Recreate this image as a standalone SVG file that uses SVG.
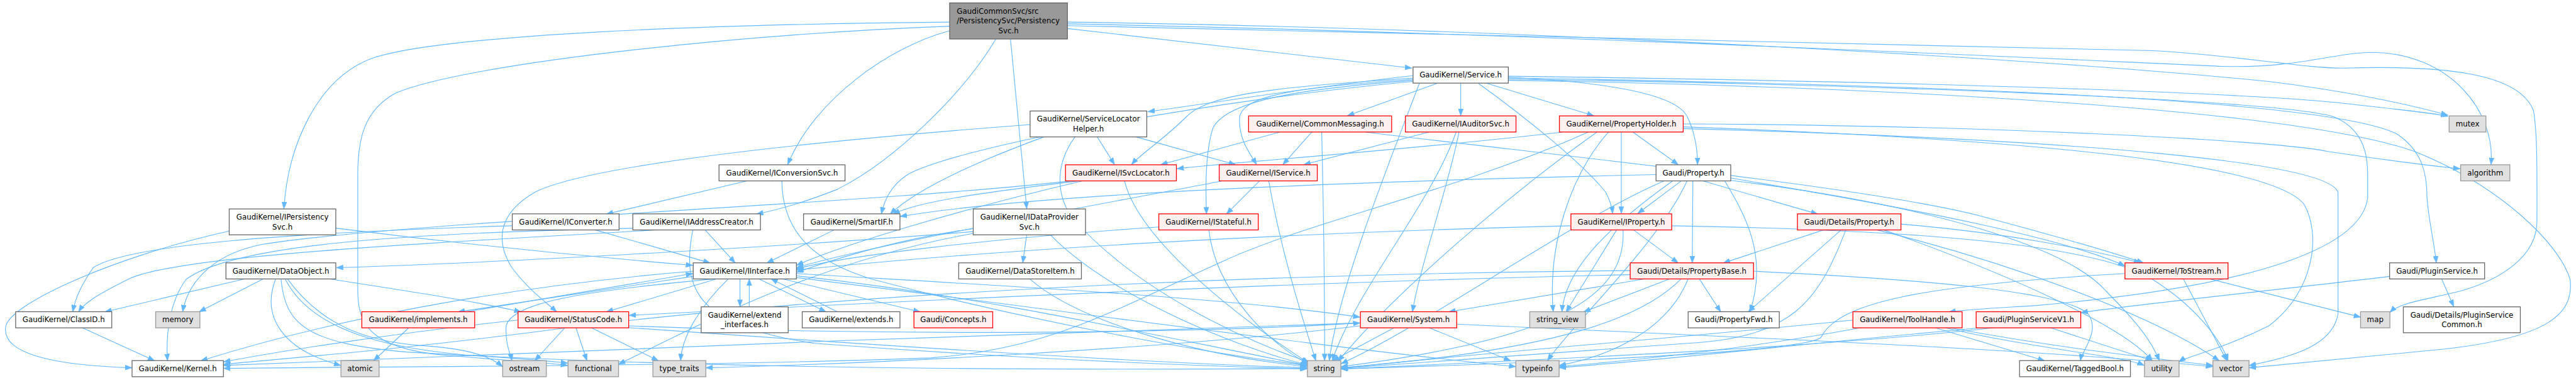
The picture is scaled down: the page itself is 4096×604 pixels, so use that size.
<svg xmlns="http://www.w3.org/2000/svg" width="4096" height="604" viewBox="0 0 4096 604">
<style>
.n rect{fill:#ffffff;stroke:#666666;stroke-width:1.4}
.r rect{fill:#fff0f0;stroke:#ff0000;stroke-width:1.4}
.g rect{fill:#e0e0e0;stroke:#999999;stroke-width:1.4}
.root rect{fill:#999999;stroke:#666666;stroke-width:1.4}
text{font-family:"DejaVu Sans","Liberation Sans",sans-serif;font-size:12.8px;text-anchor:middle;fill:#000000}
text.l{text-anchor:start}
#edges path{fill:none;stroke:#63b8ff;stroke-width:1.2;marker-end:url(#ah)}
</style>
<defs>
<marker id="ah" viewBox="0 0 12 9" refX="12" refY="4.5" markerWidth="12" markerHeight="9" markerUnits="userSpaceOnUse" orient="auto"><path d="M0,0 L12,4.5 L0,9 z" fill="#63b8ff" stroke="#63b8ff" stroke-width="0.5"/></marker>
</defs>
<rect width="4096" height="604" fill="#ffffff"/>
<g transform="scale(0.925)">
<g id="edges">
<path d="M1835,49 L2427,117"/>
<path d="M1632,53 C1530,80 1400,170 1354,283"/>
<path d="M1632,38 C1200,42 760,60 640,100 C545,135 495,250 488,359"/>
<path d="M1632,45 C1250,60 800,110 680,160 C625,190 615,240 615,300 L615,500 C615,560 640,598 760,610 C850,618 930,622 976,628"/>
<path d="M1712,67 C1650,170 1530,280 1440,325 C1390,345 1340,360 1300,368"/>
<path d="M1737,67 L1765,359"/>
<path d="M1835,38 C2600,48 3500,100 3900,140 C4060,160 4150,182 4208,198"/>
<path d="M1835,41 C2600,56 3500,100 3820,114 C3950,118 4010,90 4080,90 C4210,92 4290,190 4282,283"/>
<path d="M1835,44 C2600,62 3450,80 3700,87 C3850,95 3960,118 4030,117 C4200,112 4330,125 4355,190 C4362,230 4361,300 4361,380 C4361,440 4300,480 4230,500 C4170,515 4125,520 4108,537"/>
<path d="M2429,130 C2250,150 2100,175 1973,192"/>
<path d="M2429,134 C2200,150 2080,160 2040,200 C2000,240 1960,265 1945,283"/>
<path d="M2429,136 C2250,150 2140,160 2131,200 C2128,240 2150,265 2160,283"/>
<path d="M2471,143 L2316,199"/>
<path d="M2511,143 L2511,199"/>
<path d="M2555,143 L2740,199"/>
<path d="M2593,133 C2750,140 2880,160 2900,200 C2915,230 2918,260 2918,283"/>
<path d="M2541,143 C2620,200 2720,280 2760,330 C2768,345 2771,355 2772,367"/>
<path d="M2429,138 C2250,152 2110,170 2085,220 C2072,260 2072,320 2074,368"/>
<path d="M2429,140 C2100,170 1650,250 1560,300 C1530,320 1520,345 1515,368"/>
<path d="M2593,136 C3200,145 3900,170 4010,200 C4060,220 4070,260 4070,300 L4070,340 C4060,420 3900,490 3500,525 C3420,530 3380,532 3350,536"/>
<path d="M2593,134 C3300,145 4000,170 4120,230 C4165,260 4172,300 4172,340 C4175,380 4185,420 4188,452"/>
<path d="M2593,131 C3300,140 3900,160 4050,180 C4140,190 4190,195 4208,200"/>
<path d="M2440,143 C2380,300 2300,500 2285,620"/>
<path d="M2593,138 C3300,150 3950,190 4150,260 C4300,320 4400,420 4418,480 C4425,540 4380,580 4200,600 C4050,615 3950,625 3866,632"/>
<path d="M1283,311 L1042,368"/>
<path d="M1344,311 C1345,400 1400,450 1500,480 C1800,560 2100,610 2247,628"/>
<path d="M1886,235 L1916,283"/>
<path d="M1952,235 L2124,283"/>
<path d="M1848,235 C1815,280 1815,330 1840,370 C1950,500 2150,590 2250,622"/>
<path d="M1795,235 C1700,270 1580,320 1530,368"/>
<path d="M1771,214 C1300,250 1000,290 920,330 C850,370 855,420 880,460 C910,500 940,520 957,536"/>
<path d="M1853,311 C1700,330 1580,345 1535,368"/>
<path d="M1860,311 C1650,360 1450,420 1369,456"/>
<path d="M1933,311 C1960,420 2150,560 2250,624"/>
<path d="M1840,311 C1500,350 700,380 450,420 C350,440 320,500 314,536"/>
<path d="M2165,311 L2108,368"/>
<path d="M2181,311 C2200,420 2230,520 2262,620"/>
<path d="M2100,311 C1900,350 1500,420 1369,460"/>
<path d="M2200,227 L1995,283"/>
<path d="M2255,227 L2205,283"/>
<path d="M2272,227 C2275,350 2277,500 2277,620"/>
<path d="M2347,227 C2700,270 3200,320 3400,370 C3550,410 3650,440 3685,452"/>
<path d="M2456,227 L2241,283"/>
<path d="M2503,227 C2460,350 2330,500 2290,620"/>
<path d="M2508,227 C2490,320 2440,460 2428,536"/>
<path d="M2686,227 C2400,260 2100,280 2023,290"/>
<path d="M2807,227 L2885,283"/>
<path d="M2787,227 L2787,367"/>
<path d="M2745,227 C2600,330 2400,500 2300,621"/>
<path d="M2765,227 C2700,300 2660,420 2670,536"/>
<path d="M2730,227 C2500,330 2250,380 2100,450 C1900,540 1800,600 1600,615 C1200,630 600,630 384,633"/>
<path d="M2893,213 C3400,215 3900,240 4000,260 C4100,275 4180,285 4229,290"/>
<path d="M2893,218 C3500,240 3900,280 3960,350 C3990,400 3980,500 3900,560 C3820,600 3760,612 3745,622"/>
<path d="M2893,221 C3600,240 4000,280 4019,330 L4019,540 C4010,590 3950,612 3866,628"/>
<path d="M2890,311 L2815,367"/>
<path d="M2910,311 L2909,452"/>
<path d="M2928,311 L3125,368"/>
<path d="M2965,311 C3000,370 3040,440 3008,536"/>
<path d="M2975,306 C3300,360 3550,410 3653,457"/>
<path d="M2975,310 C3300,350 3550,420 3620,500 C3680,560 3700,590 3712,620"/>
<path d="M2860,311 C2700,380 2450,560 2305,625"/>
<path d="M2875,311 C2750,400 2690,470 2685,536"/>
<path d="M2900,311 C2850,420 2700,560 2660,620"/>
<path d="M2847,300 C2400,310 1800,330 1547,372"/>
<path d="M2808,395 L2885,452"/>
<path d="M2779,395 L2692,536"/>
<path d="M2790,395 C2795,500 2700,580 2305,630"/>
<path d="M2700,388 C2200,400 1700,430 1369,464"/>
<path d="M2873,388 C3300,395 3600,420 3700,480 C3780,530 3820,590 3830,620"/>
<path d="M2829,479 L2490,536"/>
<path d="M2871,479 L2722,536"/>
<path d="M2890,479 C2830,540 2700,600 2305,632"/>
<path d="M2902,479 C2870,560 2780,610 2680,628"/>
<path d="M2921,479 L2958,536"/>
<path d="M2802,465 C2200,470 1500,500 1000,560 C700,600 500,615 384,626"/>
<path d="M2802,472 C2200,485 1500,520 1081,542"/>
<path d="M3014,466 C3300,480 3550,500 3590,540 C3610,570 3580,600 3576,620"/>
<path d="M3135,395 L2962,452"/>
<path d="M3165,395 L3005,536"/>
<path d="M3173,395 C3125,520 3080,580 2900,590 C2600,610 2400,625 2305,633"/>
<path d="M3267,385 C3450,400 3600,430 3680,452"/>
<path d="M3238,395 C3450,470 3650,560 3700,620"/>
<path d="M3226,395 C3450,450 3700,540 3815,620"/>
<path d="M1992,390 C1700,410 1450,440 1369,462"/>
<path d="M2078,395 C2090,500 2180,590 2250,626"/>
<path d="M1434,395 L1318,452"/>
<path d="M1023,395 L1221,452"/>
<path d="M880,388 C500,400 220,420 160,460 C140,490 130,510 125,536"/>
<path d="M1212,395 L1264,452"/>
<path d="M1130,395 C700,420 300,440 220,480 C170,505 145,520 135,536"/>
<path d="M1191,395 C1170,500 1200,560 1400,590 C1800,620 2100,630 2247,634"/>
<path d="M1100,392 C700,400 400,420 320,480 C290,520 285,580 288,620"/>
<path d="M394,397 C200,440 20,520 10,560 C0,610 100,628 227,632"/>
<path d="M577,392 C800,420 1000,440 1191,456"/>
<path d="M1765,403 L1758,452"/>
<path d="M1673,398 C1400,420 900,450 578,460"/>
<path d="M1673,393 C1550,410 1450,440 1369,468"/>
<path d="M1805,403 C1900,500 2100,590 2250,628"/>
<path d="M1673,401 C1400,450 1200,560 1063,626"/>
<path d="M1770,479 C1850,550 2050,610 2248,630"/>
<path d="M422,479 L180,536"/>
<path d="M453,479 L342,536"/>
<path d="M474,479 C450,540 480,600 586,628"/>
<path d="M483,479 C490,560 530,590 700,605 C1300,640 2000,635 2247,633"/>
<path d="M494,479 C560,570 650,590 740,595 C800,600 840,610 864,630"/>
<path d="M490,479 C540,580 700,600 800,610 C880,615 940,620 976,624"/>
<path d="M564,479 C700,500 830,520 896,536"/>
<path d="M1272,479 L1272,527"/>
<path d="M1288,527 L1288,479"/>
<path d="M1304,479 L1420,536"/>
<path d="M1440,536 L1325,479"/>
<path d="M1233,479 L1042,536"/>
<path d="M1191,475 L787,536"/>
<path d="M800,536 L1191,470"/>
<path d="M1231,479 C1000,500 880,520 870,560 C868,590 878,610 880,620"/>
<path d="M1252,479 C1200,530 1172,580 1170,620"/>
<path d="M1344,479 L1582,536"/>
<path d="M1369,470 C1700,490 2100,510 2338,545"/>
<path d="M1369,474 C1700,510 2000,580 2248,628"/>
<path d="M1369,477 C1800,530 2300,600 2606,630"/>
<path d="M1191,466 C900,490 600,540 345,620"/>
<path d="M971,563 L919,620"/>
<path d="M990,563 L1009,620"/>
<path d="M1016,563 L1132,620"/>
<path d="M890,550 C700,570 500,600 384,622"/>
<path d="M1081,560 C1600,580 2100,570 2338,555"/>
<path d="M1081,563 C1600,600 2000,625 2247,632"/>
<path d="M2397,563 L2290,620"/>
<path d="M2456,563 L2597,620"/>
<path d="M2338,555 C1800,570 800,610 384,628"/>
<path d="M2338,560 C2000,600 1500,625 1213,632"/>
<path d="M2504,557 C3000,580 3500,600 3804,630"/>
<path d="M703,563 L642,620"/>
<path d="M141,563 L266,620"/>
<path d="M3797,479 L4058,545"/>
<path d="M3753,479 L3828,620"/>
<path d="M3653,470 C3300,490 3160,520 3130,580 C3100,605 2700,622 2305,634"/>
<path d="M3185,550 C2900,580 2500,610 2305,633"/>
<path d="M3326,563 L3515,620"/>
<path d="M3342,563 C3500,600 3650,612 3686,628"/>
<path d="M3350,563 C3550,600 3700,615 3804,628"/>
<path d="M3200,563 C3000,600 2800,620 2680,630"/>
<path d="M3430,563 C3100,600 2600,620 2305,634"/>
<path d="M3524,563 L3700,620"/>
<path d="M3410,563 C3100,590 2900,615 2680,632"/>
<path d="M4197,479 L4218,527"/>
<path d="M4108,475 C3900,500 3700,520 3577,537"/>
</g>
<g id="root" class="root"><rect x="1632.4" y="5" width="202.5" height="62"/><text class="l" x="1644.6" y="23.5">GaudiCommonSvc/src</text><text class="l" x="1644.6" y="40.5">/PersistencySvc/Persistency</text><text x="1733.6" y="57.5">Svc.h</text></g>
<g id="n_service" class="n"><rect x="2429" y="115.15" width="163.8" height="27.7"/><text x="2510.9" y="133.5">GaudiKernel/Service.h</text></g>
<g id="n_commonmessaging" class="r"><rect x="2146.3" y="199.15" width="245.9" height="27.7"/><text x="2269.25" y="217.5">GaudiKernel/CommonMessaging.h</text></g>
<g id="n_iauditorsvc" class="r"><rect x="2415.8" y="199.15" width="190.2" height="27.7"/><text x="2510.9" y="217.5">GaudiKernel/IAuditorSvc.h</text></g>
<g id="n_propertyholder" class="r"><rect x="2680.6" y="199.15" width="212.8" height="27.7"/><text x="2787" y="217.5">GaudiKernel/PropertyHolder.h</text></g>
<g id="n_mutex" class="g"><rect x="4210" y="199.15" width="63.3" height="27.7"/><text x="4241.65" y="217.5">mutex</text></g>
<g id="n_servicelocatorhelper" class="n"><rect x="1770.7" y="190.75" width="200.6" height="44.5"/><text x="1871" y="209">GaudiKernel/ServiceLocator</text><text x="1871" y="226">Helper.h</text></g>
<g id="n_iconversionsvc" class="n"><rect x="1236" y="283.15" width="216.6" height="27.7"/><text x="1344.3" y="301.5">GaudiKernel/IConversionSvc.h</text></g>
<g id="n_isvclocator" class="r"><rect x="1831.6" y="283.15" width="190.6" height="27.7"/><text x="1926.9" y="301.5">GaudiKernel/ISvcLocator.h</text></g>
<g id="n_iservice" class="r"><rect x="2095.8" y="283.15" width="168.6" height="27.7"/><text x="2180.1" y="301.5">GaudiKernel/IService.h</text></g>
<g id="n_property" class="n"><rect x="2846.7" y="283.15" width="128.4" height="27.7"/><text x="2910.9" y="301.5">Gaudi/Property.h</text></g>
<g id="n_algorithm" class="g"><rect x="4229.8" y="283.15" width="84.6" height="27.7"/><text x="4272.1" y="301.5">algorithm</text></g>
<g id="n_ipersistencysvc" class="n"><rect x="394" y="359.05" width="183.2" height="44.5"/><text x="485.6" y="377.3">GaudiKernel/IPersistency</text><text x="485.6" y="394.3">Svc.h</text></g>
<g id="n_idataprovidersvc" class="n"><rect x="1673" y="359.05" width="193" height="44.5"/><text x="1769.5" y="377.3">GaudiKernel/IDataProvider</text><text x="1769.5" y="394.3">Svc.h</text></g>
<g id="n_iconverter" class="n"><rect x="880.6" y="367.45" width="183.6" height="27.7"/><text x="972.4" y="385.8">GaudiKernel/IConverter.h</text></g>
<g id="n_iaddresscreator" class="n"><rect x="1087.8" y="367.45" width="219.4" height="27.7"/><text x="1197.5" y="385.8">GaudiKernel/IAddressCreator.h</text></g>
<g id="n_smartif" class="n"><rect x="1381.3" y="367.45" width="165.7" height="27.7"/><text x="1464.15" y="385.8">GaudiKernel/SmartIF.h</text></g>
<g id="n_istateful" class="r"><rect x="1992" y="367.45" width="170.9" height="27.7"/><text x="2077.45" y="385.8">GaudiKernel/IStateful.h</text></g>
<g id="n_iproperty" class="r"><rect x="2700.4" y="367.45" width="173.2" height="27.7"/><text x="2787" y="385.8">GaudiKernel/IProperty.h</text></g>
<g id="n_detailsproperty" class="r"><rect x="3089.8" y="367.45" width="177.9" height="27.7"/><text x="3178.75" y="385.8">Gaudi/Details/Property.h</text></g>
<g id="n_dataobject" class="n"><rect x="388.4" y="451.65" width="188.8" height="27.7"/><text x="482.8" y="470">GaudiKernel/DataObject.h</text></g>
<g id="n_iinterface" class="n"><rect x="1191.6" y="451.65" width="177.5" height="27.7"/><text x="1280.35" y="470">GaudiKernel/IInterface.h</text></g>
<g id="n_datastoreitem" class="n"><rect x="1648" y="451.65" width="210.9" height="27.7"/><text x="1753.45" y="470">GaudiKernel/DataStoreItem.h</text></g>
<g id="n_propertybase" class="r"><rect x="2802.3" y="451.65" width="212" height="27.7"/><text x="2908.3" y="470">Gaudi/Details/PropertyBase.h</text></g>
<g id="n_tostream" class="r"><rect x="3652.8" y="451.65" width="177.1" height="27.7"/><text x="3741.35" y="470">GaudiKernel/ToStream.h</text></g>
<g id="n_pluginservice" class="n"><rect x="4107.7" y="451.65" width="163.3" height="27.7"/><text x="4189.35" y="470">Gaudi/PluginService.h</text></g>
<g id="n_classid" class="n"><rect x="26.9" y="535.65" width="165.2" height="27.7"/><text x="109.5" y="554">GaudiKernel/ClassID.h</text></g>
<g id="n_memory" class="g"><rect x="267.6" y="535.65" width="76" height="27.7"/><text x="305.6" y="554">memory</text></g>
<g id="n_implements" class="r"><rect x="622" y="535.65" width="194" height="27.7"/><text x="719" y="554">GaudiKernel/implements.h</text></g>
<g id="n_statuscode" class="r"><rect x="890.5" y="535.65" width="190.2" height="27.7"/><text x="985.6" y="554">GaudiKernel/StatusCode.h</text></g>
<g id="n_extend_interfaces" class="n"><rect x="1205.3" y="527.25" width="149.6" height="44.5"/><text x="1280.1" y="545.5">GaudiKernel/extend</text><text x="1280.1" y="562.5">_interfaces.h</text></g>
<g id="n_extends" class="n"><rect x="1379" y="535.65" width="168" height="27.7"/><text x="1463" y="554">GaudiKernel/extends.h</text></g>
<g id="n_concepts" class="r"><rect x="1571.1" y="535.65" width="135.4" height="27.7"/><text x="1638.8" y="554">Gaudi/Concepts.h</text></g>
<g id="n_system" class="r"><rect x="2338.5" y="535.65" width="165.6" height="27.7"/><text x="2421.3" y="554">GaudiKernel/System.h</text></g>
<g id="n_string_view" class="g"><rect x="2629.6" y="535.65" width="95.8" height="27.7"/><text x="2677.5" y="554">string_view</text></g>
<g id="n_propertyfwd" class="n"><rect x="2901.9" y="535.65" width="156.7" height="27.7"/><text x="2980.25" y="554">Gaudi/PropertyFwd.h</text></g>
<g id="n_toolhandle" class="r"><rect x="3185.1" y="535.65" width="187.8" height="27.7"/><text x="3279" y="554">GaudiKernel/ToolHandle.h</text></g>
<g id="n_pluginservicev1" class="r"><rect x="3397" y="535.65" width="179.8" height="27.7"/><text x="3486.9" y="554">Gaudi/PluginServiceV1.h</text></g>
<g id="n_map" class="g"><rect x="4057.8" y="535.65" width="50.4" height="27.7"/><text x="4083" y="554">map</text></g>
<g id="n_pluginservicecommon" class="n"><rect x="4131.3" y="527.25" width="201.1" height="44.5"/><text x="4231.85" y="545.5">Gaudi/Details/PluginService</text><text x="4231.85" y="562.5">Common.h</text></g>
<g id="n_kernel" class="n"><rect x="227" y="619.65" width="157.1" height="27.7"/><text x="305.55" y="638">GaudiKernel/Kernel.h</text></g>
<g id="n_atomic" class="g"><rect x="586.1" y="619.65" width="65.6" height="27.7"/><text x="618.9" y="638">atomic</text></g>
<g id="n_ostream" class="g"><rect x="864.1" y="619.65" width="75" height="27.7"/><text x="901.6" y="638">ostream</text></g>
<g id="n_functional" class="g"><rect x="976.4" y="619.65" width="86.9" height="27.7"/><text x="1019.85" y="638">functional</text></g>
<g id="n_type_traits" class="g"><rect x="1122.3" y="619.65" width="91" height="27.7"/><text x="1167.8" y="638">type_traits</text></g>
<g id="n_string" class="g"><rect x="2247.4" y="619.65" width="57.5" height="27.7"/><text x="2276.15" y="638">string</text></g>
<g id="n_typeinfo" class="g"><rect x="2605.6" y="619.65" width="74.5" height="27.7"/><text x="2642.85" y="638">typeinfo</text></g>
<g id="n_taggedbool" class="n"><rect x="3471.6" y="619.65" width="190.6" height="27.7"/><text x="3566.9" y="638">GaudiKernel/TaggedBool.h</text></g>
<g id="n_utility" class="g"><rect x="3686.3" y="619.65" width="59.5" height="27.7"/><text x="3716.05" y="638">utility</text></g>
<g id="n_vector" class="g"><rect x="3804" y="619.65" width="62" height="27.7"/><text x="3835" y="638">vector</text></g>
</g>
</svg>
